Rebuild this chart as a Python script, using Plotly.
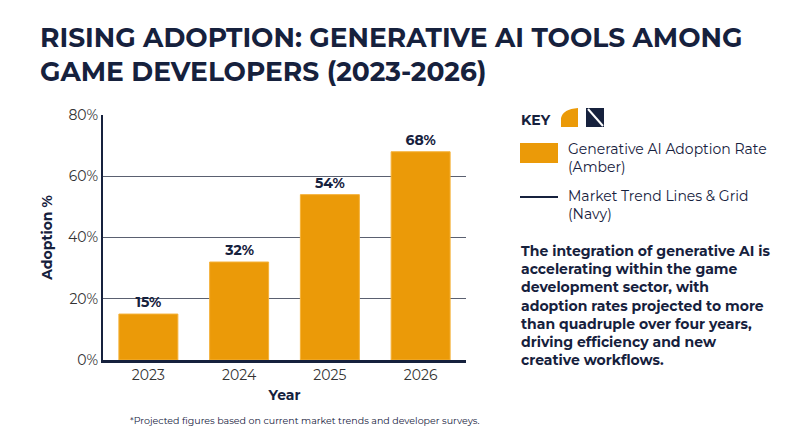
import plotly.graph_objects as go

years = ["2023", "2024", "2025", "2026"]
adoption = [15, 32, 54, 68]
labels = ["15%", "32%", "54%", "68%"]
y_ticks = [0, 20, 40, 60, 80]
y_tick_text = ["0%", "20%", "40%", "60%", "80%"]

NAVY = "#16213d"
AMBER = "#eb9a08"
FONT = "Montserrat, Inter, 'Open Sans', sans-serif"

# plot area in pixels (as rendered): x 95..458, y 115..360
def px(x):
    return (x - 95) / 363.0

def py(y):
    return (360 - y) / 245.0

fig = go.Figure()
fig.add_trace(go.Bar(
    x=years, y=adoption, width=0.65,
    marker=dict(color=AMBER, line=dict(color="#f5b23a", width=1)),
    text=labels, textposition="outside", cliponaxis=False,
    textfont=dict(family=FONT, size=14, color=NAVY, weight="bold"),
    showlegend=False,
))

fig.update_layout(
    width=800, height=447,
    margin=dict(l=95, r=342, t=107, b=95),
    plot_bgcolor="white", paper_bgcolor="white",
    font=dict(family=FONT, color=NAVY),
    bargap=0.35,
)
fig.update_yaxes(
    range=[0, 80], tickvals=y_ticks, ticktext=y_tick_text,
    showgrid=True, gridcolor="#5a6070", gridwidth=1,
    showline=True, linecolor=NAVY, linewidth=2,
    tickfont=dict(size=14, color="#333"), ticks="", ticklen=0,
    title=dict(text="Adoption %", font=dict(size=14, color=NAVY, weight="bold"), standoff=12),
    zeroline=False,
)
fig.update_xaxes(
    showline=True, linecolor=NAVY, linewidth=3,
    tickfont=dict(size=14, color="#333"),
    title=dict(text="Year", font=dict(size=14, color=NAVY, weight="bold"), standoff=8),
)

shapes = [
    # amber quarter circle icon
    dict(type="path", xref="paper", yref="paper",
         path=f"M {px(553)} {py(127)} L {px(553)} {py(118)} Q {px(555)} {py(109)} {px(570)} {py(108)} L {px(570)} {py(127)} Z",
         fillcolor=AMBER, line=dict(width=0)),
    # navy square icon with diagonal
    dict(type="rect", xref="paper", yref="paper",
         x0=px(578), x1=px(596), y0=py(127), y1=py(108),
         fillcolor=NAVY, line=dict(width=0)),
    dict(type="line", xref="paper", yref="paper",
         x0=px(580), x1=px(595), y0=py(109), y1=py(126),
         line=dict(color="white", width=2)),
    # legend swatch
    dict(type="rect", xref="paper", yref="paper",
         x0=px(512), x1=px(550), y0=py(163), y1=py(143),
         fillcolor=AMBER, line=dict(width=0)),
    dict(type="line", xref="paper", yref="paper",
         x0=px(512), x1=px(550), y0=py(197), y1=py(197),
         line=dict(color=NAVY, width=2)),
]
fig.update_layout(shapes=shapes)

ann = [
    dict(text="<b>RISING ADOPTION: GENERATIVE AI TOOLS AMONG<br>GAME DEVELOPERS (2023-2026)</b>",
         x=px(30), y=py(55), size=26.5),
    dict(text="<b>KEY</b>", x=px(511), y=py(120), size=14),
    dict(text="Generative AI Adoption Rate<br>(Amber)", x=px(558), y=py(158), size=14),
    dict(text="Market Trend Lines & Grid<br>(Navy)", x=px(558), y=py(205), size=14),
    dict(text="<b>The integration of generative AI is<br>accelerating within the game<br>development sector, with<br>adoption rates projected to more<br>than quadruple over four years,<br>driving efficiency and new<br>creative workflows.</b>",
         x=px(511), y=py(305), size=14),
    dict(text="*Projected figures based on current market trends and developer surveys.",
         x=px(120), y=py(420), size=9.5),
]
for a in ann:
    fig.add_annotation(
        text=a["text"], x=a["x"], y=a["y"], xref="paper", yref="paper",
        xanchor="left", yanchor="middle", align="left", showarrow=False,
        font=dict(family=FONT, size=a["size"], color=NAVY),
    )

fig.write_html("out.html")
